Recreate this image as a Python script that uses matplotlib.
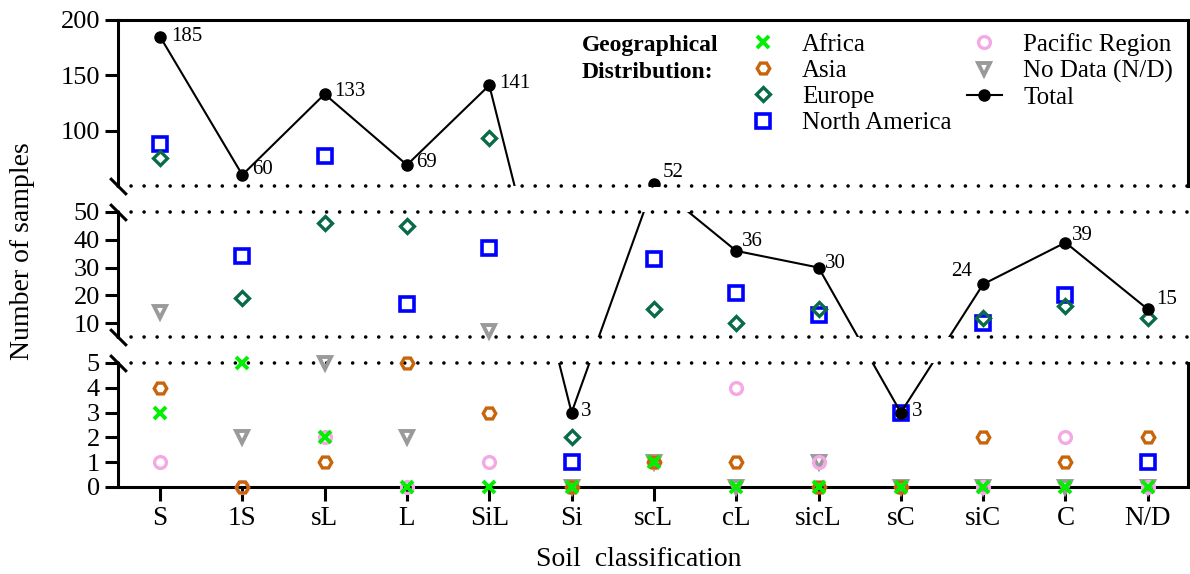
import numpy as np
import matplotlib
matplotlib.use("Agg")
import matplotlib.pyplot as plt
from matplotlib.lines import Line2D

plt.rcParams["font.family"] = ["Liberation Serif", "DejaVu Serif"]

CATEGORIES = ["S", "1S", "sL", "L", "SiL", "Si", "scL", "cL", "sicL", "sC", "siC", "C", "N/D"]
nan = np.nan
AFRICA = [3, 5, 2, 0, 0, 0, 1, 0, 0, 0, 0, 0, 0]
ASIA = [4, 0, 1, 5, 3, 0, 1, 1, 0, 0, 2, 1, 2]
EUROPE = [75, 19, 46, 45, 93, 2, 15, 10, 15, nan, 12, 16, 12]
NORTH_AMERICA = [88, 34, 77, 17, 37, 1, 33, 21, 13, 3, 10, 20, 1]
PACIFIC = [1, 0, 2, 0, 1, nan, 1, 4, 1, nan, 0, 2, 0]
NO_DATA = [14, 2, 5, 2, 7, 0, 1, 0, 1, 0, 0, 0, 0]
TOTAL = [185, 60, 133, 69, 141, 3, 52, 36, 30, 3, 24, 39, 15]

# broken y axis, panels from top to bottom
Y_RANGES = [(50, 200), (5, 50), (0, 5)]
Y_TICKS = [[100, 150, 200], [10, 20, 30, 40, 50], [0, 1, 2, 3, 4, 5]]

# figure fractions of the three panels (bottom, height)
PANELS = [(0.676, 0.2892), (0.4129, 0.2178), (0.1516, 0.2160)]
LEFT, WIDTH = 0.0992, 0.8992

# offsets (points) and alignment of the total labels
LABEL_OFFSETS = [(8, 0, "left"), (7, 3.6, "left"), (7, 2, "left"), (6.5, 1.5, "left"),
                 (7, 1.5, "left"), (7, 0.7, "left"), (6.5, 8, "left"), (4.3, 7, "left"),
                 (4.3, 3, "left"), (8, 0.7, "left"), (-8, 9.4, "right"), (5, 5, "left"),
                 (5.8, 7, "left")]

SERIES = [
    ("No Data (N/D)", NO_DATA, dict(marker="v", mfc="none", mec="#9a9a9a", ms=8, mew=2.8)),
    ("Pacific Region", PACIFIC, dict(marker="o", mfc="none", mec="#f4a8e4", ms=8.5, mew=2.4)),
    ("North America", NORTH_AMERICA, dict(marker="s", mfc="none", mec="#0000ff", ms=9.5, mew=2.6)),
    ("Europe", EUROPE, dict(marker="D", mfc="none", mec="#0a6b48", ms=7, mew=2.4)),
    ("Asia", ASIA, dict(marker="H", mfc="none", mec="#c8640a", ms=9, mew=2.4)),
    ("Africa", AFRICA, dict(marker="x", color="#00f000", ms=8.5, mew=2.8)),
]
LEGEND_ORDER = ["Africa", "Asia", "Europe", "North America", "Pacific Region", "No Data (N/D)", "Total"]


def panel_of(v):
    for i, (lo, hi) in enumerate(Y_RANGES):
        if v > lo or i == len(Y_RANGES) - 1:
            return i


fig = plt.figure(figsize=(11.9, 5.74), dpi=100)
x = np.arange(len(CATEGORIES))
axes = []
for i, ((y0, h), (lo, hi)) in enumerate(zip(PANELS, Y_RANGES)):
    ax = fig.add_axes([LEFT, y0, WIDTH, h])
    ax.set_xlim(-0.51, len(CATEGORIES) - 0.51)
    ax.set_ylim(lo, hi)
    ax.set_yticks(Y_TICKS[i])
    ax.tick_params(axis="y", labelsize=19, length=9.4, width=2.2, pad=3.6)
    for side in ["left", "top", "right", "bottom"]:
        ax.spines[side].set_linewidth(2.2)
    ax.spines["top"].set_visible(i == 0)
    ax.spines["right"].set_visible(i != 1)
    ax.spines["bottom"].set_visible(i == 2)
    if i == 2:
        ax.set_xticks(x)
        ax.set_xticklabels(CATEGORIES)
        ax.tick_params(axis="x", labelsize=19.5, length=10, width=2.2, pad=3.6)
    else:
        ax.set_xticks([])
    ax.patch.set_visible(False)

    # dotted break lines and slashes on the y axis
    brk = dict(marker=[(-1, 1), (1, -1)], markersize=12, linestyle="none",
               color="k", mec="k", mew=2.2, clip_on=False, transform=ax.transAxes)
    edges = []
    if i > 0:
        edges.append(hi)
        ax.plot([0], [1], **brk)
    if i < 2:
        edges.append(lo)
        ax.plot([0], [0], **brk)
    for e in edges:
        ax.axhline(e, color="k", lw=2.6, linestyle=(0, (0.01, 3.6)),
                   dash_capstyle="round", clip_on=False, zorder=1)
    axes.append(ax)

# scatter series, each value in the panel that holds it
handles = {}
for z, (name, vals, style) in enumerate(SERIES):
    for k, ax in enumerate(axes):
        idx = [j for j, v in enumerate(vals) if not np.isnan(v) and panel_of(v) == k]
        if not idx:
            continue
        ax.plot(x[idx], np.array(vals)[idx], linestyle="none", clip_on=False,
                zorder=3 + z * 0.1 + (0.5 if name == "Africa" else 0), **style)
    handles[name] = Line2D([], [], linestyle="none", **style)

# total line: straight in figure space, clipped by each panel
disp = np.array([axes[panel_of(v)].transData.transform((xi, v)) for xi, v in zip(x, TOTAL)])
# in the middle panel the original only draws the line from Si onwards
start = {0: 0, 1: CATEGORIES.index("Si"), 2: 0}
for k, ax in enumerate(axes):
    loc = ax.transData.inverted().transform(disp)
    s = start[k]
    ax.plot(loc[s:, 0], loc[s:, 1], color="k", lw=1.5, marker="o", ms=8,
            clip_on=True, zorder=3.6)
handles["Total"] = Line2D([], [], color="k", lw=1.5, marker="o", ms=8)

for j, v in enumerate(TOTAL):
    ax = axes[panel_of(v)]
    dx, dy, ha = LABEL_OFFSETS[j]
    ax.annotate(str(v), (x[j], v), xytext=(dx, dy), textcoords="offset points",
                ha=ha, va="center", fontsize=15, annotation_clip=False, zorder=5)

fig.legend([handles[n] for n in LEGEND_ORDER], LEGEND_ORDER, ncol=2, loc="upper left",
           bbox_to_anchor=(0.6265, 0.9425), frameon=False, fontsize=18, numpoints=1,
           handlelength=1.4, handletextpad=0.85, columnspacing=0.62, labelspacing=0.145,
           borderaxespad=0, borderpad=0)
fig.text(0.489, 0.939, "Geographical\nDistribution:", fontsize=17, fontweight="bold",
         va="top", ha="left", linespacing=1.35)

fig.text(0.0185, 0.5627, "Number of samples", rotation=90, fontsize=20, ha="center", va="center")
fig.text(0.537, 0.0244, "Soil  classification", fontsize=20, ha="center", va="center")

fig.savefig("out.png", dpi=100)
